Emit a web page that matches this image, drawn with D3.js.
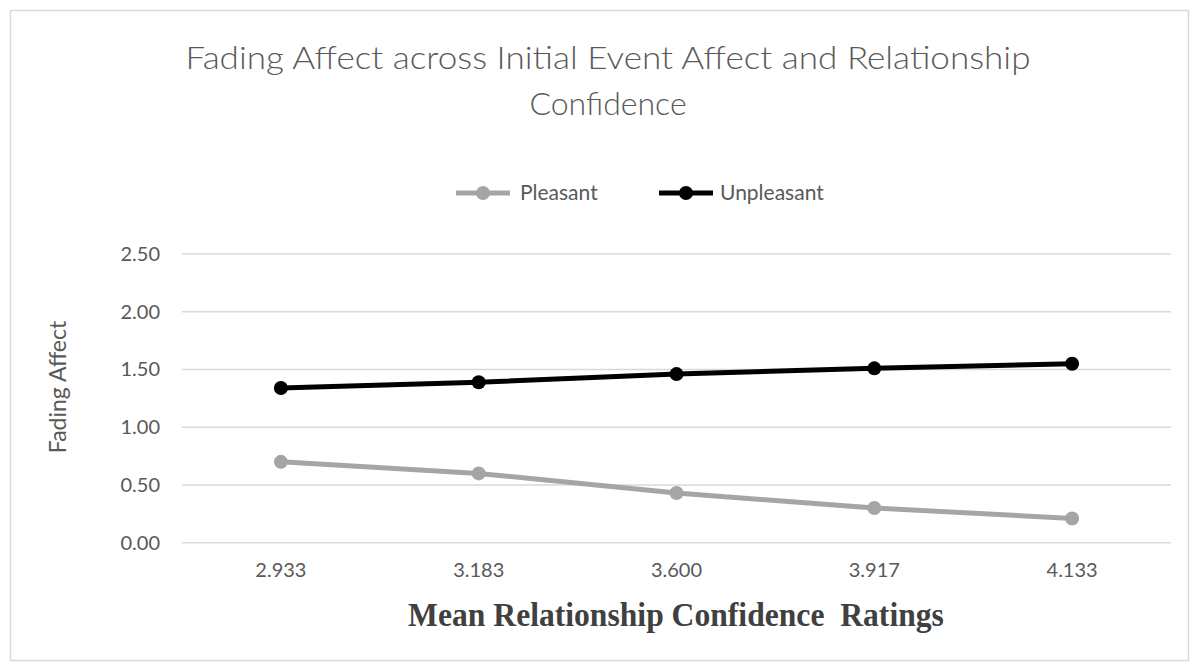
<!DOCTYPE html>
<html>
<head>
<meta charset="utf-8">
<script src="https://cdn.jsdelivr.net/npm/d3@7"></script>
<style>
  html, body { margin: 0; padding: 0; background: #fff; }
  svg { display: block; }
</style>
</head>
<body>
<svg id="chart" width="1199" height="670"></svg>
<script>
const categories = ["2.933", "3.183", "3.600", "3.917", "4.133"];
const pleasant = [0.70, 0.60, 0.43, 0.30, 0.21];
const unpleasant = [1.34, 1.39, 1.46, 1.51, 1.55];
const yTicks = [0, 0.5, 1.0, 1.5, 2.0, 2.5];
const seriesNames = ["Pleasant", "Unpleasant"];
const seriesColors = ["#a5a5a5", "#000000"];

const svg = d3.select("#chart");
const plot = { left: 182, right: 1171, top: 254, bottom: 542.7 };
const font = "Lato, 'Open Sans', sans-serif";
const textGray = "#595959";

// chart border
svg.append("rect").attr("x", 10.5).attr("y", 10.5).attr("width", 1178).attr("height", 650)
  .attr("fill", "#fff").attr("stroke", "#d9d9d9").attr("stroke-width", 1.5);

const x = d3.scaleBand().domain(categories).range([plot.left, plot.right]);
const y = d3.scaleLinear().domain([0, 2.5]).range([plot.bottom, plot.top]);

// gridlines
svg.append("g").selectAll("line").data(yTicks).join("line")
  .attr("x1", plot.left).attr("x2", plot.right)
  .attr("y1", d => y(d)).attr("y2", d => y(d))
  .attr("stroke", "#d9d9d9").attr("stroke-width", 1.5);

// y axis labels
const yAxis = d3.axisLeft(y).tickValues(yTicks).tickFormat(d3.format(".2f")).tickSize(0).tickPadding(22);
const gy = svg.append("g").attr("transform", `translate(${plot.left},0)`).call(yAxis);
gy.select(".domain").remove();
gy.selectAll("text").attr("font-family", font).attr("font-size", 20).attr("fill", textGray);

// x axis labels
const xAxis = d3.axisBottom(x).tickSize(0).tickPadding(20);
const gx = svg.append("g").attr("transform", `translate(0,${plot.bottom})`).call(xAxis);
gx.select(".domain").remove();
gx.selectAll("text").attr("font-family", font).attr("font-size", 20).attr("fill", textGray);

// lines
const cx = c => x(c) + x.bandwidth() / 2;
const line = d3.line().x(d => cx(d.c)).y(d => y(d.v));
const seriesData = [pleasant, unpleasant].map((vals, i) => ({
  name: seriesNames[i], color: seriesColors[i],
  pts: vals.map((v, j) => ({ c: categories[j], v }))
}));
seriesData.forEach(s => {
  svg.append("path").datum(s.pts).attr("d", line)
    .attr("fill", "none").attr("stroke", s.color).attr("stroke-width", 5)
    .attr("stroke-linejoin", "round");
  svg.append("g").selectAll("circle").data(s.pts).join("circle")
    .attr("cx", d => cx(d.c)).attr("cy", d => y(d.v)).attr("r", 7)
    .attr("fill", s.color);
});

// title
const title = svg.append("text").attr("text-anchor", "middle")
  .attr("font-family", font).attr("font-weight", 300).attr("font-size", 32).attr("fill", textGray);
title.append("tspan").attr("x", 608).attr("y", 69)
  .attr("textLength", 845).attr("lengthAdjust", "spacingAndGlyphs")
  .text("Fading Affect across Initial Event Affect and Relationship");
title.append("tspan").attr("x", 608).attr("y", 115).text("Confidence");

// legend
const legend = [
  { name: seriesNames[0], color: seriesColors[0], x0: 456, tx: 520 },
  { name: seriesNames[1], color: seriesColors[1], x0: 659, tx: 720 }
];
const ly = 193;
legend.forEach(l => {
  svg.append("line").attr("x1", l.x0).attr("x2", l.x0 + 54).attr("y1", ly).attr("y2", ly)
    .attr("stroke", l.color).attr("stroke-width", 5);
  svg.append("circle").attr("cx", l.x0 + 27).attr("cy", ly).attr("r", 7).attr("fill", l.color);
  svg.append("text").attr("x", l.tx).attr("y", ly + 7).attr("font-family", font)
    .attr("font-size", 21).attr("fill", textGray).text(l.name);
});

// y axis title
svg.append("text").attr("transform", "translate(66,387) rotate(-90)").attr("text-anchor", "middle")
  .attr("font-family", font).attr("font-size", 23).attr("fill", textGray).text("Fading Affect");

// x axis title
svg.append("text").attr("transform", "translate(676,626) scale(0.93,1)").attr("text-anchor", "middle")
  .attr("font-family", "'Liberation Serif', 'Times New Roman', serif").attr("font-weight", "bold")
  .attr("font-size", 34).attr("fill", "#404040").style("white-space", "pre")
  .text("Mean Relationship Confidence  Ratings");
</script>
</body>
</html>
